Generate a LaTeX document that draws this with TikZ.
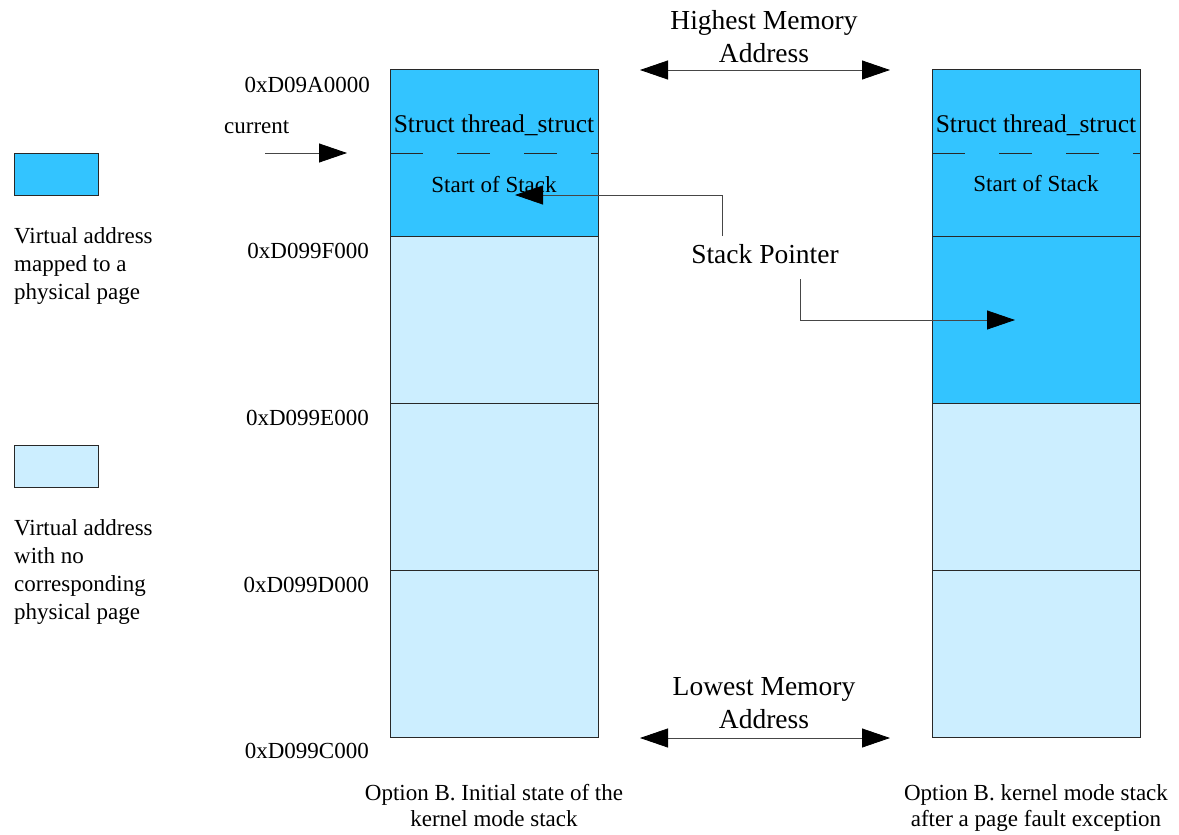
\documentclass[tikz,border=0pt]{standalone}
\usepackage{fontspec}
\setmainfont{Liberation Serif}
\usetikzlibrary{arrows.meta,calc}
\definecolor{mapped}{RGB}{51,196,255}
\definecolor{unmapped}{RGB}{204,238,255}
\definecolor{edge}{RGB}{40,40,40}
\definecolor{wire}{RGB}{70,70,70}
\begin{document}
\begin{tikzpicture}[x=1pt,y=-1pt,
  seg/.style={draw=edge,line width=0.8pt,minimum width=208pt,minimum height=167pt,inner sep=0pt,anchor=north west},
  legbox/.style={draw=edge,line width=0.8pt,minimum width=84pt,minimum height=42pt,inner sep=0pt,anchor=north west},
  small/.style={font=\fontsize{23}{28}\selectfont,inner sep=0pt},
  caption/.style={font=\fontsize{23}{26.5}\selectfont,inner sep=0pt,align=center,anchor=north},
  big/.style={font=\fontsize{27.5}{33}\selectfont,inner sep=0pt},
  structtxt/.style={font=\fontsize{25.5}{30}\selectfont,inner sep=0pt,anchor=base},
  addr/.style={font=\fontsize{23}{28}\selectfont,inner sep=0pt,anchor=base east},
  wire/.style={draw=wire,line width=0.8pt},
  arr/.style={wire,-{Triangle[length=28pt,width=19pt,color=black]}},
  darr/.style={wire,{Triangle[length=28pt,width=19pt,color=black]}-{Triangle[length=28pt,width=19pt,color=black]}},
  divider/.style={draw=edge,line width=0.8pt,dash pattern=on 33pt off 34pt}
]
\useasboundingbox (0,0) rectangle (1179,835);

% left stack
\node[seg,fill=mapped]   (L1) at (390,69)  {};
\node[seg,fill=unmapped] (L2) at (390,236) {};
\node[seg,fill=unmapped] (L3) at (390,403) {};
\node[seg,fill=unmapped] (L4) at (390,570) {};
\draw[divider] ($(L1.north west)+(0,84)$) -- ($(L1.north east)+(0,84)$);
\node[structtxt] (Lts) at (494,132) {Struct thread\_struct};
\node[small,anchor=base] (Lsos) at (494,192) {Start of Stack};

% right stack
\node[seg,fill=mapped]   (R1) at (932,69)  {};
\node[seg,fill=mapped]   (R2) at (932,236) {};
\node[seg,fill=unmapped] (R3) at (932,403) {};
\node[seg,fill=unmapped] (R4) at (932,570) {};
\draw[divider] ($(R1.north west)+(0,84)$) -- ($(R1.north east)+(0,84)$);
\node[structtxt] (Rts) at (1036,132) {Struct thread\_struct};
\node[small,anchor=base] (Rsos) at (1036,191) {Start of Stack};

% addresses
\node[addr] (a0) at (370,92)  {0xD09A0000};
\node[addr] (a1) at (369,258) {0xD099F000};
\node[addr] (a2) at (369,425) {0xD099E000};
\node[addr] (a3) at (369,592) {0xD099D000};
\node[addr] (a4) at (369,758) {0xD099C000};

% current
\node[small,anchor=base west] (cur) at (224,133) {current};
\coordinate (curA) at (265,153);
\coordinate (curB) at (347,153);
\draw[arr] (curA) -- (curB);

% highest / lowest
\node[big,align=center,anchor=north] (hi) at (764,10) {Highest Memory\\Address};
\coordinate (hiL) at (640,70);
\coordinate (hiR) at (890,70);
\draw[darr] (hiL) -- (hiR);
\node[big,align=center,anchor=north] (lo) at (764,677) {Lowest Memory\\Address};
\coordinate (loL) at (640,738);
\coordinate (loR) at (890,738);
\draw[darr] (loL) -- (loR);

% stack pointer
\node[big,anchor=base] (sp) at (765,263) {Stack Pointer};
\coordinate (sp1) at (722,236);
\coordinate (sp1tip) at (515,195);
\draw[arr] (sp1) |- (sp1tip);
\coordinate (sp2) at (800,279);
\coordinate (sp2tip) at (1015,320);
\draw[arr] (sp2) |- (sp2tip);

% legend
\node[legbox,fill=mapped] (legM) at (14,153) {};
\node[small,align=left,anchor=north west] (legMt) at (14,227) {Virtual address\\mapped to a\\physical page};
\node[legbox,fill=unmapped] (legU) at (14,445) {};
\node[small,align=left,anchor=north west] (legUt) at (14,519) {Virtual address\\with no\\corresponding\\physical page};

% captions
\node[caption] (capL) at (494,784) {Option B. Initial state of the\\kernel mode stack};
\node[caption] (capR) at (1036,784) {Option B. kernel mode stack\\after a page fault exception};
\end{tikzpicture}
\end{document}
